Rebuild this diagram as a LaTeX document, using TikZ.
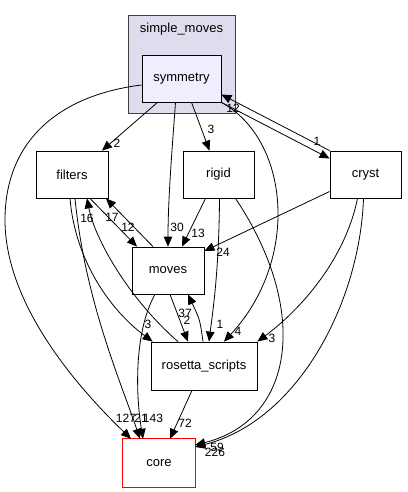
\documentclass[tikz,border=0pt]{standalone}
\usepackage{fontspec}
\setmainfont{Liberation Sans}
\definecolor{clusterfill}{HTML}{DDDDEE}
\definecolor{clusterline}{HTML}{404040}
\definecolor{symfill}{HTML}{EEEEFF}
\definecolor{corered}{RGB}{255,0,0}
\def\mauduong{black}
\usetikzlibrary{arrows.meta}

\begin{document}
\begin{tikzpicture}[x=1pt,y=-1pt,
	dirbox/.style={draw,line width=0.8pt,inner sep=0pt,minimum width=72pt,minimum height=47pt,font=\fontsize{13}{15}\selectfont},
	corebox/.style={inner sep=0pt,minimum width=72pt,minimum height=48pt,font=\fontsize{13}{15}\selectfont},
	elabel/.style={inner sep=0pt,font=\fontsize{12}{14}\selectfont},
	dep/.style={\mauduong,line width=0.8pt,-{Triangle[length=10pt,width=8.5pt]}}]
		\useasboundingbox (0,0) rectangle (407,492);
		% cluster
		\path[fill=clusterfill,draw=clusterline,line width=0.8pt] (128,15) rectangle (235,113);
		\node[inner sep=0pt,font=\fontsize{13}{15}\selectfont] (simplemoves) at (181.5,29) {simple\_moves};
		% directories
		\node[dirbox,fill=symfill,minimum width=79pt] (symmetry) at (181.5,78.5) {symmetry};
		\node[dirbox] (filters) at (72,174.5) {filters};
		\node[dirbox,minimum width=71pt] (rigid) at (218.5,174.5) {rigid};
		\node[dirbox,minimum width=71pt] (cryst) at (365.5,174.5) {cryst};
		\node[dirbox] (moves) at (168,270.5) {moves};
		\node[dirbox,minimum width=106pt,minimum height=48pt] (rosetta) at (204,366) {rosetta\_scripts};
		\node[corebox] (core) at (159,463) {core};
		\draw[corered,line width=1.2pt] (core.south west) rectangle (core.north east);
		% dependencies
		\draw[dep] ([xshift=-24pt]symmetry.south) -- ([xshift=30pt]filters.north);
		\draw[dep] ([xshift=10pt]symmetry.south) -- ([xshift=-9pt]rigid.north);
		\draw[dep] ([xshift=-6pt]symmetry.south) .. controls (172,150) and (168,200) .. (moves.north);
		\draw[dep] (symmetry.south east) -- ([yshift=16pt]cryst.west);
		\draw[dep] (cryst.north west) -- ([yshift=-16pt]symmetry.east);
		\draw[dep] ([yshift=-6.5pt]symmetry.west) .. controls (60,95) and (5,140) .. (5,220)
			.. controls (5,300) and (70,380) .. ([xshift=-28pt]core.north);
		\draw[dep] (symmetry.south east) .. controls (290,140) and (300,260) .. ([xshift=20pt]rosetta.north);
		\draw[dep] ([xshift=18pt]filters.south) -- ([xshift=-31pt]moves.north);
		\draw[dep] ([xshift=-15pt]moves.north) -- ([xshift=34pt]filters.south);
		\draw[dep] ([xshift=-26pt]rosetta.north) .. controls (130,300) and (95,240) .. ([xshift=15pt]filters.south);
		\draw[dep] ([xshift=-2pt]filters.south) .. controls (75,260) and (110,310) .. ([xshift=2pt]rosetta.north west);
		\draw[dep] ([xshift=3pt]filters.south) .. controls (85,300) and (120,380) .. ([xshift=-19pt]core.north);
		\draw[dep] ([xshift=-13pt]rigid.south) -- ([xshift=14pt]moves.north);
		\draw[dep] ([xshift=1pt]rigid.south) .. controls (219,270) and (213,310) .. ([xshift=5pt]rosetta.north);
		\draw[dep] ([xshift=17pt]rigid.south) .. controls (310,310) and (295,420) .. ([yshift=18pt]core.east);
		\draw[dep] ([yshift=-17pt]cryst.west) -- ([yshift=19.5pt]moves.east);
		\draw[dep] ([xshift=-8pt]cryst.south) .. controls (345,260) and (300,310) .. (rosetta.north east);
		\draw[dep] ([xshift=-2pt]cryst.south) .. controls (360,300) and (300,420) .. ([yshift=16pt]core.east);
		\draw[dep] ([xshift=2pt]moves.south) -- ([xshift=-16pt]rosetta.north);
		\draw[dep] ([xshift=-1pt]rosetta.north) .. controls (200,320) .. ([xshift=20pt]moves.south);
		\draw[dep] ([xshift=-13pt]moves.south) .. controls (135,330) and (135,390) .. ([xshift=-16pt]core.north);
		\draw[dep] ([xshift=-12pt]rosetta.south) -- ([xshift=11pt]core.north);
		% labels
		\foreach \lname/\lpos/\ltext in {lsymfil/{(117,143)}/2,lsymrig/{(211,129)}/3,lsymmov/{(177,227)}/30,
			lsymcry/{(317,141)}/1,lcrysym/{(233,108)}/12,lsymcor/{(126,418)}/127,lsymros/{(238,331)}/4,
			lfilmov/{(128,227)}/12,lmovfil/{(112,217)}/17,lrosfil/{(87,218)}/16,lfilros/{(148,324)}/3,
			lfilcor/{(141,418)}/21,lrigmov/{(198,233)}/13,lrigros/{(220,324)}/1,lrigcor/{(217,447)}/59,
			lcrymov/{(223,252)}/24,lcryros/{(272,338)}/3,lcrycor/{(215,452)}/226,lmovros/{(185,313)}/37,
			lrosmov/{(187,320)}/2,lmovcor/{(153,418)}/143,lroscor/{(185,423)}/72}
			\node[elabel] (\lname) at \lpos {\ltext};
	\end{tikzpicture}
\end{document}
